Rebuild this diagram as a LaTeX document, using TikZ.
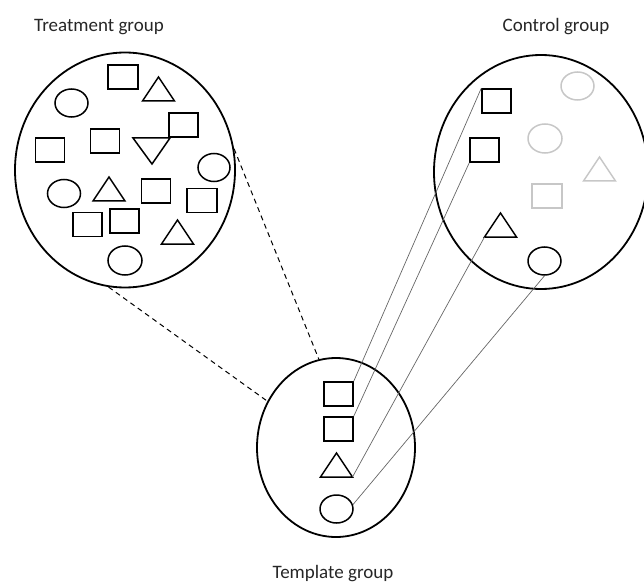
\documentclass[tikz,border=0pt]{standalone}
\usepackage{fontspec}
\setmainfont{Carlito}
\usetikzlibrary{shapes.geometric}
\newcommand{\mytri}[4][]{%
  \coordinate (#2-a) at (#3,#4);
  \coordinate (#2-l) at (#3-16,#4+24);
  \coordinate (#2-r) at (#3+16,#4+24);
  \draw[tri,#1] (#2-a) -- (#2-l) -- (#2-r) -- cycle;}
\begin{document}
\begin{tikzpicture}[x=1pt,y=-1pt,
  grp/.style={draw=black, line width=1.8pt, ellipse, inner sep=0pt},
  sq/.style={draw=black, line width=1.5pt, rectangle, inner sep=0pt, minimum width=29pt, minimum height=24pt},
  ov/.style={draw=black, line width=1.5pt, ellipse, inner sep=0pt, minimum width=33pt, minimum height=28pt},
  faint/.style={draw=black!22},
  tri/.style={draw=black, line width=1.5pt, line join=miter},
  link/.style={draw=black!60, line width=0.7pt},
  tangent/.style={draw=black, line width=1pt, dash pattern=on 5pt off 4pt},
  lbl/.style={font=\fontsize{19}{22}\selectfont, text=black!85, anchor=base, inner sep=0pt}
]
\useasboundingbox (0,0) rectangle (644,585);

% group circles
\node[grp, minimum width=220pt, minimum height=235pt] (treat) at (125,170) {};
\node[grp, minimum width=214pt, minimum height=234pt] (ctrl) at (541,172) {};
\node[grp, minimum width=158pt, minimum height=179pt] (tmpl) at (336,447.5) {};

% labels
\node[lbl] (ltreat) at (99,32) {Treatment group};
\node[lbl] (lctrl) at (556,32) {Control group};
\node[lbl] (ltmpl) at (333,578) {Template group};

% treatment group members
\node[sq, minimum width=30pt] (ts1) at (123,77) {};
\node[sq] (ts2) at (183.5,125) {};
\node[sq] (ts3) at (50,150) {};
\node[sq] (ts4) at (105,141) {};
\node[sq] (ts5) at (156,191) {};
\node[sq, minimum width=30pt] (ts6) at (202,200.5) {};
\node[sq] (ts7) at (87.5,224.5) {};
\node[sq] (ts8) at (124.5,221) {};
\node[ov] (to1) at (71.5,103) {};
\node[ov, minimum width=32pt] (to2) at (214,167.5) {};
\node[ov] (to3) at (64,193.5) {};
\node[ov, minimum width=34pt, minimum height=29pt] (to4) at (125,260.5) {};
\mytri{tt1}{158.5}{77}
\mytri{tt2}{109}{177}
\mytri{tt3}{177.5}{220}
\coordinate (td-l) at (133,138);
\coordinate (td-r) at (170,138);
\coordinate (td-a) at (152,164);
\draw[tri] (td-l) -- (td-r) -- (td-a) -- cycle;

% control group members
\node[sq] (cs1) at (496.5,101) {};
\node[sq] (cs2) at (484.5,150) {};
\node[sq, faint, minimum width=30pt] (cs3) at (547,196) {};
\node[ov] (co1) at (544.5,261) {};
\node[ov, faint] (co2) at (577.5,86) {};
\node[ov, faint, minimum width=34pt, minimum height=29pt] (co3) at (545,138.5) {};
\mytri{ct1}{500.5}{213}
\mytri[faint]{ct2}{599.5}{157}

% template group members
\node[sq] (ms1) at (338.5,394) {};
\node[sq] (ms2) at (338.5,429) {};
\mytri{mt1}{336.5}{453}
\node[ov] (mo1) at (336.5,509) {};

% matching links
\draw[link] (ms1.north east) -- (cs1.north west);
\draw[link] (ms2.north east) -- (cs2.south west);
\draw[link] (mt1-r) -- (ct1-l);
\draw[link] (mo1.15) -- (co1.south);

% dashed tangents
\draw[tangent] (treat.11) -- (tmpl.101);
\draw[tangent] (treat.-98) -- (tmpl.146);
\end{tikzpicture}
\end{document}
